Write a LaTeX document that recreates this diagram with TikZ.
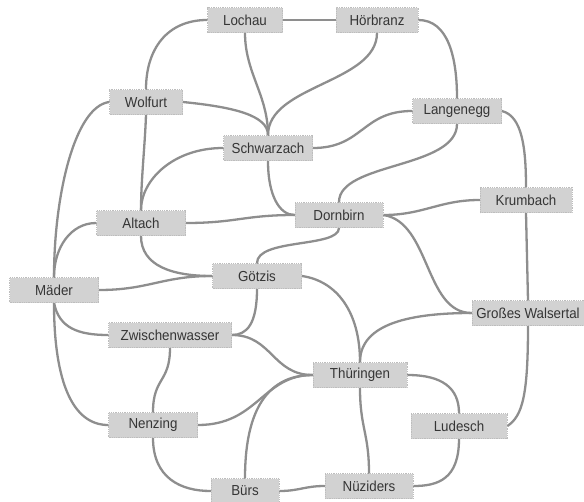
\documentclass[tikz,border=0pt]{standalone}
\usepackage{fontspec}
\setmainfont[FakeStretch=0.92]{Liberation Sans}
\usetikzlibrary{backgrounds}
\definecolor{boxfill}{HTML}{D2D2D2}
\definecolor{boxline}{HTML}{BDBDBD}
\definecolor{linkgray}{HTML}{8E8E8E}
\definecolor{labelgray}{HTML}{353535}
\tikzset{
  place/.style={rectangle, fill=boxfill, draw=boxline, densely dotted, line width=0.8pt,
    inner sep=0pt, minimum height=25pt, text=labelgray,
    font=\fontsize{14.5}{15}\selectfont},
  link/.style={draw=linkgray, line width=2.3pt, line cap=round}
}
\begin{document}
\begin{tikzpicture}[x=1pt,y=-1pt]
\useasboundingbox (0,0) rectangle (584,501);

% places
\node[place, minimum width=75pt] (loch) at (245,20) {Lochau};
\node[place, minimum width=82pt] (hor)  at (377,20) {Hörbranz};
\node[place, minimum width=73pt] (wolf) at (146,102) {Wolfurt};
\node[place, minimum width=89pt] (schw) at (268,148) {Schwarzach};
\node[place, minimum width=89pt] (lang) at (457,111) {Langenegg};
\node[place, minimum width=92pt] (krum) at (526,200) {Krumbach};
\node[place, minimum width=88pt] (dorn) at (339,215) {Dornbirn};
\node[place, minimum width=112pt] (gw)  at (528,313) {Großes Walsertal};
\node[place, minimum width=89pt] (alt)  at (141,223) {Altach};
\node[place, minimum width=89pt] (gotz) at (257,276) {Götzis};
\node[place, minimum width=89pt] (mad)  at (54,290) {Mäder};
\node[place, minimum width=123pt] (zw)  at (170,335) {Zwischenwasser};
\node[place, minimum width=94pt] (thu)  at (360,375) {Thüringen};
\node[place, minimum width=89pt] (nenz) at (153,425) {Nenzing};
\node[place, minimum width=96pt] (lud)  at (459,426) {Ludesch};
\node[place, minimum width=68pt] (burs) at (245,491) {Bürs};
\node[place, minimum width=88pt] (nuz)  at (369,486) {Nüziders};

% connections
\begin{scope}[on background layer]
\draw[link] (loch.east) -- (hor.west);
\draw[link] (loch.west) .. controls +(-40,0) and +(0,-40) .. (wolf.north);
\draw[link] (loch.south) .. controls +(0,40) and +(0,-40) .. (schw.north);
\draw[link] (hor.south) .. controls +(0,50) and +(0,-50) .. (schw.north);
\draw[link] (hor.east) .. controls +(30,0) and +(0,-40) .. (lang.north);
\draw[link] (wolf.east) .. controls +(50,5) and +(0,-20) .. (schw.north);
\draw[link] (wolf.south) .. controls +(-1,30) and +(0,-30) .. (alt.north);
\draw[link] (wolf.west) .. controls +(-35,5) and +(0,-80) .. (mad.north);
\draw[link] (schw.west) .. controls +(-50,0) and +(0,-30) .. (alt.north);
\draw[link] (schw.east) .. controls +(50,0) and +(-50,0) .. (lang.west);
\draw[link] (schw.south) .. controls +(0,35) and +(-15,0) .. (dorn.west);
\draw[link] (lang.south) .. controls +(0,45) and +(0,-40) .. (dorn.north);
\draw[link] (lang.east) .. controls +(20,5) and +(0,-40) .. (krum.north);
\draw[link] (krum.west) .. controls +(-40,0) and +(40,0) .. (dorn.east);
\draw[link] (krum.south) -- (gw.north);
\draw[link] (gw.south) .. controls +(0,70) and +(15,-10) .. (lud.east);
\draw[link] (dorn.east) .. controls +(47,7) and +(-47,0) .. (gw.west);
\draw[link] (dorn.west) .. controls +(-50,0) and +(50,0) .. (alt.east);
\draw[link] (dorn.south) .. controls +(0,20) and +(0,-25) .. (gotz.north);
\draw[link] (alt.west) .. controls +(-25,0) and +(0,-30) .. (mad.north);
\draw[link] (alt.south) .. controls +(0,30) and +(-40,0) .. (gotz.west);
\draw[link] (mad.east) .. controls +(50,0) and +(-50,0) .. (gotz.west);
\draw[link] (gotz.south) .. controls +(0,35) and +(15,0) .. (zw.east);
\draw[link] (gotz.east) .. controls +(35,5) and +(0,-50) .. (thu.north);
\draw[link] (gw.west) .. controls +(-70,0) and +(0,-35) .. (thu.north);
\draw[link] (mad.south) .. controls +(5,25) and +(-30,0) .. (zw.west);
\draw[link] (mad.south) .. controls +(0,80) and +(-35,0) .. (nenz.west);
\draw[link] (zw.east) .. controls +(40,0) and +(-40,0) .. (thu.west);
\draw[link] (zw.south) .. controls +(0,35) and +(0,-35) .. (nenz.north);
\draw[link] (nenz.east) .. controls +(60,0) and +(-50,0) .. (thu.west);
\draw[link] (nenz.south) .. controls +(0,40) and +(-30,0) .. (burs.west);
\draw[link] (burs.north) .. controls +(0,-60) and +(-50,0) .. (thu.west);
\draw[link] (burs.east) .. controls +(20,0) and +(-20,0) .. (nuz.west);
\draw[link] (thu.south) .. controls +(0,40) and +(0,-40) .. (nuz.north);
\draw[link] (thu.east) .. controls +(35,0) and +(0,-25) .. (lud.north);
\draw[link] (lud.south) .. controls +(0,40) and +(25,0) .. (nuz.east);
\end{scope}
\end{tikzpicture}
\end{document}
